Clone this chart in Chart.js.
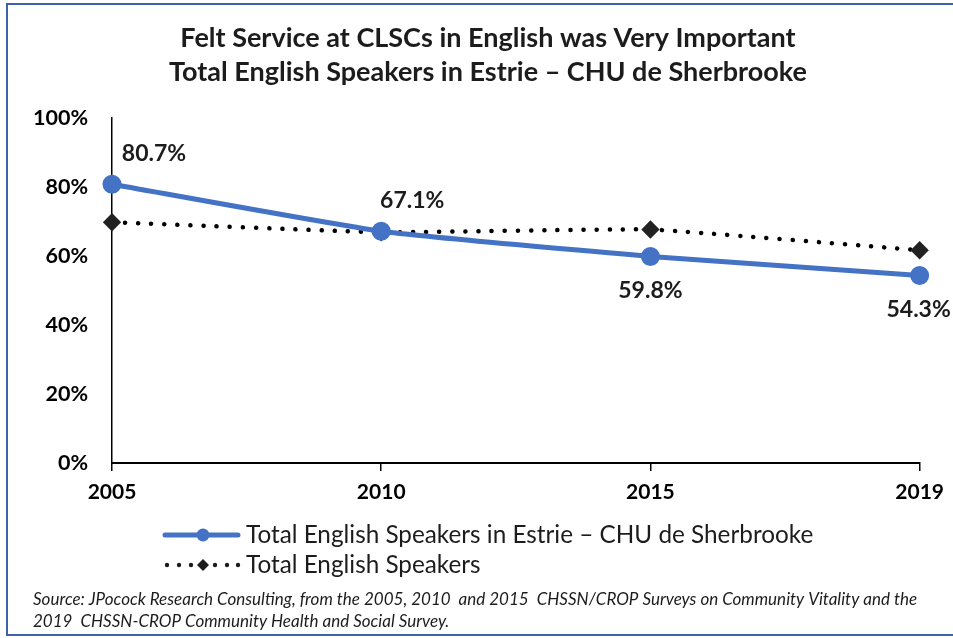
<!DOCTYPE html>
<html>
<head>
<meta charset="utf-8">
<script src="https://cdn.jsdelivr.net/npm/chart.js@4.4.0/dist/chart.umd.min.js"></script>
<style>
  html, body { margin: 0; padding: 0; background: #fff; }
  #wrap { position: relative; width: 953px; height: 638px; overflow: hidden; }
  #frame {
    position: absolute; left: 6px; top: 3px; width: 980px; height: 629px;
    border: 2px solid #3f62a8; pointer-events: none;
  }
  canvas { position: absolute; left: 0; top: 0; }
</style>
</head>
<body>
<div id="wrap">
  <canvas id="myChart" width="953" height="638"></canvas>
  <div id="frame"></div>
</div>
<script>
// Chart data
const years = ['2005', '2010', '2015', '2019'];
const estrieValues = [80.7, 67.1, 59.8, 54.3];
const totalValues = [69.7, 66.8, 67.6, 61.6];
const yTicks = [0, 20, 40, 60, 80, 100];

const titleLines = [
  'Felt Service at CLSCs in English was Very Important',
  'Total English Speakers in Estrie \u2013 CHU de Sherbrooke'
];
const seriesNames = [
  'Total English Speakers in Estrie \u2013 CHU de Sherbrooke',
  'Total English Speakers'
];
const sourceLines = [
  'Source: JPocock Research Consulting, from the 2005, 2010  and 2015  CHSSN/CROP Surveys on Community Vitality and the',
  '2019  CHSSN-CROP Community Health and Social Survey.'
];

// where each value label sits relative to its point
const labelPlacement = ['upper-right', 'upper-right', 'below', 'below'];

const blue = '#4472C4';
const dark = '#1c1c1c';

// the title is centred a bit right of the canvas middle
const titleShift = {
  id: 'titleShift',
  afterLayout(chart) {
    if (chart.titleBlock) chart.titleBlock.left = 56;
  }
};

// value labels on the blue line
const valueLabels = {
  id: 'valueLabels',
  afterDatasetsDraw(chart) {
    const ctx = chart.ctx;
    const meta = chart.getDatasetMeta(0);
    ctx.save();
    ctx.font = 'bold 23px Lato';
    ctx.fillStyle = dark;
    ctx.textAlign = 'center';
    ctx.textBaseline = 'middle';
    meta.data.forEach((pt, i) => {
      const txt = estrieValues[i].toFixed(1) + '%';
      let x = pt.x, y = pt.y;
      if (labelPlacement[i] === 'upper-right') {
        x += i === 0 ? 42 : 31;
        y -= 31;
      } else {
        x += i === years.length - 1 ? -1 : 0;
        y += 34;
      }
      ctx.fillText(txt, x, y);
    });
    ctx.restore();
  }
};

// legend stacked below the chart plus source note
const bottomNotes = {
  id: 'bottomNotes',
  afterDraw(chart) {
    const ctx = chart.ctx;
    const ds = chart.data.datasets;
    ctx.save();

    // entry 1: solid blue line with circle
    let y = 535;
    ctx.strokeStyle = ds[0].borderColor;
    ctx.lineWidth = 5;
    ctx.lineCap = 'round';
    ctx.beginPath();
    ctx.moveTo(165, y); ctx.lineTo(238, y);
    ctx.stroke();
    ctx.fillStyle = ds[0].pointBackgroundColor;
    ctx.beginPath();
    ctx.arc(203, y, 6.5, 0, Math.PI * 2);
    ctx.fill();

    // entry 2: dotted black line with diamond
    y = 565;
    ctx.fillStyle = dark;
    [167, 179, 191, 215, 227, 238].forEach(x => {
      ctx.beginPath();
      ctx.arc(x, y, 2.2, 0, Math.PI * 2);
      ctx.fill();
    });
    ctx.beginPath();
    ctx.moveTo(203, y - 6); ctx.lineTo(209, y); ctx.lineTo(203, y + 6); ctx.lineTo(197, y);
    ctx.closePath();
    ctx.fill();

    ctx.font = '24.3px Lato';
    ctx.fillStyle = dark;
    ctx.textAlign = 'left';
    ctx.textBaseline = 'middle';
    ctx.fillText(seriesNames[0], 246, 535, 570);
    ctx.fillText(seriesNames[1], 246, 565);

    ctx.font = 'italic 17px Lato';
    ctx.fillText(sourceLines[0], 33, 600, 907);
    ctx.fillText(sourceLines[1], 33, 622);
    ctx.restore();
  }
};

const ctx = document.getElementById('myChart').getContext('2d');

const myChart = new Chart(ctx, {
  type: 'line',
  data: {
    labels: years,
    datasets: [{
      label: seriesNames[0],
      data: estrieValues,
      borderColor: blue,
      backgroundColor: blue,
      pointBackgroundColor: blue,
      pointBorderColor: blue,
      borderWidth: 5,
      pointRadius: 7,
      pointStyle: 'circle',
      tension: 0.15,
      fill: false,
    }, {
      label: seriesNames[1],
      data: totalValues,
      borderColor: '#000',
      backgroundColor: '#222',
      pointBackgroundColor: '#222',
      pointBorderColor: '#222',
      borderWidth: 4.5,
      borderDash: [0.1, 13],
      borderCapStyle: 'round',
      pointRadius: 6,
      pointStyle: 'rectRot',
      tension: 0.1,
      fill: false,
    }],
  },
  options: {
    responsive: false,
    animation: false,
    devicePixelRatio: 1,
    layout: {
      padding: { left: 10, right: 33, top: 0, bottom: 125 },
    },
    plugins: {
      legend: { display: false },
      tooltip: { enabled: false },
      title: {
        display: true,
        text: titleLines,
        color: dark,
        font: { family: 'Lato', size: 27, weight: 'bold', lineHeight: 1.27 },
        padding: { top: 21, bottom: 28 },
      },
    },
    scales: {
      x: {
        offset: false,
        afterFit: scale => { scale.height = 50; },
        grid: {
          display: true,
          drawOnChartArea: false,
          drawTicks: true,
          tickLength: 8,
          color: '#000',
          lineWidth: 1.5,
        },
        border: { display: true, color: '#000', width: 2 },
        ticks: {
          color: '#000',
          padding: 9,
          font: { family: 'Lato', size: 21, weight: 'bold' },
          maxRotation: 0,
        },
      },
      y: {
        min: 0,
        max: 100,
        afterFit: scale => { scale.width = 102; },
        afterBuildTicks: scale => { scale.ticks = yTicks.map(v => ({ value: v })); },
        grid: { display: false, drawTicks: false },
        border: { display: true, color: '#000', width: 1.5 },
        ticks: {
          color: '#000',
          padding: 24,
          font: { family: 'Lato', size: 21.5, weight: 'bold' },
          callback: v => v + '%',
        },
      },
    },
  },
  plugins: [titleShift, valueLabels, bottomNotes],
});
</script>
</body>
</html>
